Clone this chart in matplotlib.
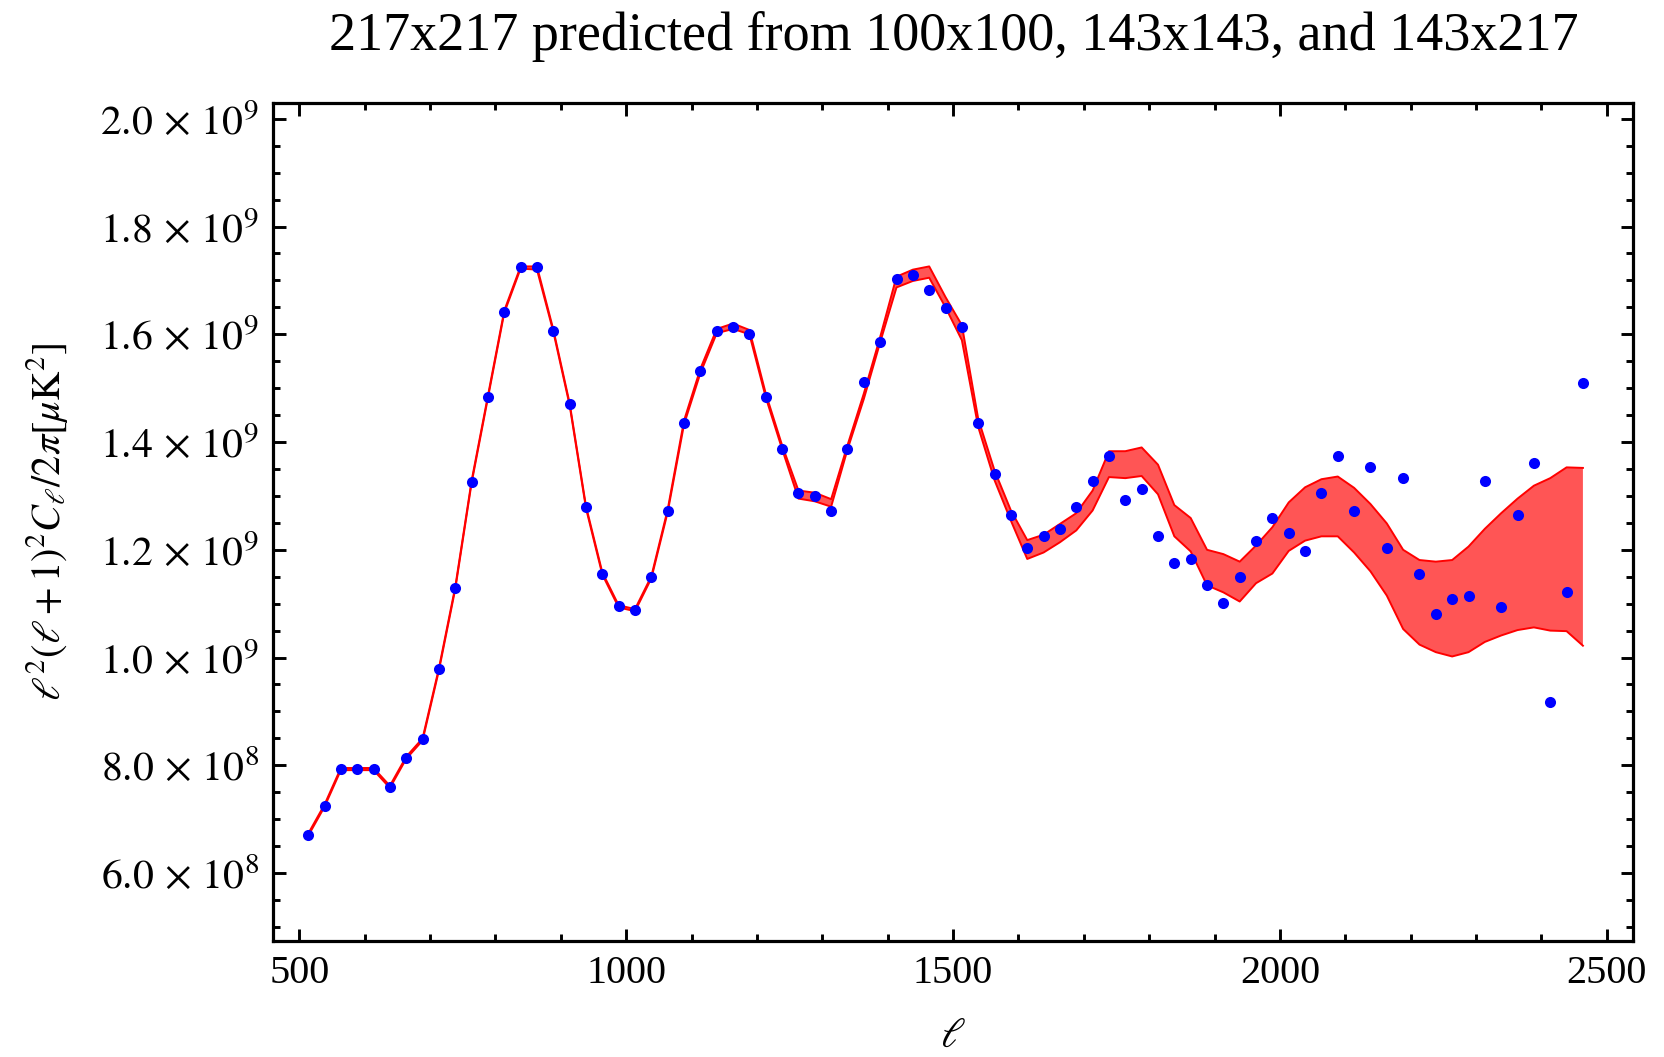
import numpy as np
import matplotlib
matplotlib.use("Agg")
import matplotlib.pyplot as plt
from matplotlib.ticker import FixedLocator, MultipleLocator

plt.rcParams["font.family"] = ["Liberation Serif", "DejaVu Serif"]
plt.rcParams["mathtext.fontset"] = "stix"

# multipole bin centres
ell = [513.5, 538.5, 563.5, 588.5, 613.5, 638.5, 663.5, 688.5, 713.5, 738.5,
       763.5, 788.5, 813.5, 838.5, 863.5, 888.5, 913.5, 938.5, 963.5, 988.5,
       1013.5, 1038.5, 1063.5, 1088.5, 1113.5, 1138.5, 1163.5, 1188.5, 1213.5, 1238.5,
       1263.5, 1288.5, 1313.5, 1338.5, 1363.5, 1388.5, 1413.5, 1438.5, 1463.5, 1488.5,
       1513.5, 1538.5, 1563.5, 1588.5, 1613.5, 1638.5, 1663.5, 1688.5, 1713.5, 1738.5,
       1763.5, 1788.5, 1813.5, 1838.5, 1863.5, 1888.5, 1913.5, 1938.5, 1963.5, 1988.5,
       2013.5, 2038.5, 2063.5, 2088.5, 2113.5, 2138.5, 2163.5, 2188.5, 2213.5, 2238.5,
       2263.5, 2288.5, 2313.5, 2338.5, 2363.5, 2388.5, 2413.5, 2438.5, 2463.5]

# measured 217x217 spectrum (units of 1e8 muK^2)
measured = [6.71, 7.25, 7.93, 7.93, 7.93, 7.60, 8.14, 8.48, 9.78, 11.29,
            13.26, 14.84, 16.42, 17.24, 17.24, 16.07, 14.70, 12.79, 11.56, 10.95,
            10.88, 11.49, 12.72, 14.36, 15.32, 16.07, 16.14, 16.00, 14.84, 13.88,
            13.06, 13.00, 12.72, 13.88, 15.11, 15.86, 17.02, 17.10, 16.82, 16.48,
            16.14, 14.36, 13.40, 12.65, 12.04, 12.25, 12.38, 12.79, 13.27, 13.74,
            12.93, 13.13, 12.25, 11.76, 11.83, 11.35, 11.01, 11.49, 12.17, 12.59,
            12.31, 11.97, 13.06, 13.75, 12.72, 13.54, 12.04, 13.34, 11.56, 10.81,
            11.08, 11.15, 13.27, 10.94, 12.65, 13.61, 9.17, 11.22, 15.10]

# predicted band, upper and lower edge (units of 1e8 muK^2)
pred_hi = [6.73, 7.27, 7.95, 7.95, 7.95, 7.62, 8.16, 8.50, 9.80, 11.31,
           13.28, 14.86, 16.44, 17.26, 17.26, 16.09, 14.72, 12.81, 11.58, 10.97,
           10.90, 11.51, 12.75, 14.40, 15.36, 16.10, 16.20, 16.08, 14.90, 13.94,
           13.10, 13.06, 12.94, 13.94, 14.90, 15.95, 17.07, 17.20, 17.26, 16.69,
           16.17, 14.43, 13.47, 12.73, 12.18, 12.28, 12.48, 12.68, 13.10, 13.83,
           13.83, 13.90, 13.58, 12.83, 12.59, 12.00, 11.92, 11.78, 12.08, 12.42,
           12.88, 13.16, 13.31, 13.36, 13.15, 12.85, 12.49, 12.00, 11.81, 11.78,
           11.81, 12.06, 12.39, 12.68, 12.95, 13.19, 13.33, 13.53, 13.52]
pred_lo = [6.69, 7.23, 7.91, 7.91, 7.91, 7.58, 8.12, 8.46, 9.76, 11.27,
           13.24, 14.82, 16.40, 17.22, 17.20, 16.05, 14.68, 12.77, 11.54, 10.93,
           10.86, 11.47, 12.70, 14.33, 15.28, 16.02, 16.10, 16.00, 14.83, 13.87,
           12.95, 12.90, 12.80, 13.86, 14.80, 15.85, 16.87, 16.99, 17.05, 16.50,
           15.89, 14.28, 13.29, 12.54, 11.83, 11.95, 12.14, 12.36, 12.73, 13.35,
           13.33, 13.37, 13.03, 12.25, 11.97, 11.34, 11.21, 11.04, 11.38, 11.56,
           11.98, 12.17, 12.25, 12.25, 11.95, 11.60, 11.15, 10.53, 10.24, 10.10,
           10.02, 10.10, 10.29, 10.41, 10.51, 10.56, 10.50, 10.49, 10.22]

y_ticks = [6e8, 8e8, 1.0e9, 1.2e9, 1.4e9, 1.6e9, 1.8e9, 2.0e9]
y_tick_labels = [r"$6.0\,\times\,10^{8}$", r"$8.0\,\times\,10^{8}$", r"$1.0\,\times\,10^{9}$",
                 r"$1.2\,\times\,10^{9}$", r"$1.4\,\times\,10^{9}$", r"$1.6\,\times\,10^{9}$",
                 r"$1.8\,\times\,10^{9}$", r"$2.0\,\times\,10^{9}$"]
x_ticks = [500, 1000, 1500, 2000, 2500]
x_tick_labels = ["500", "1000", "1500", "2000", "2500"]

ell = np.array(ell)
measured = np.array(measured) * 1e8
pred_hi = np.array(pred_hi) * 1e8
pred_lo = np.array(pred_lo) * 1e8

fig = plt.figure(figsize=(16.64, 10.57), dpi=100)
ax = fig.add_axes([0.1639, 0.1093, 0.8177, 0.7936])

ax.fill_between(ell, pred_lo, pred_hi, facecolor="#ff5555", edgecolor="none", zorder=1)
ax.plot(ell, pred_hi, color="red", lw=1.4, zorder=2)
ax.plot(ell, pred_lo, color="red", lw=1.4, zorder=2)
ax.plot(ell, measured, "o", color="blue", markersize=8.0, markeredgewidth=0, zorder=3)

ax.set_xlim(459.3, 2540.7)
ax.set_ylim(4.73e8, 2.03e9)

ax.xaxis.set_major_locator(FixedLocator(x_ticks))
ax.set_xticklabels(x_tick_labels)
ax.xaxis.set_minor_locator(MultipleLocator(100))
ax.yaxis.set_major_locator(FixedLocator(y_ticks))
ax.set_yticklabels(y_tick_labels)
ax.yaxis.set_minor_locator(MultipleLocator(0.5e8))

ax.tick_params(which="both", direction="in", top=True, right=True, width=2.1, colors="black")
ax.tick_params(which="major", length=9, labelsize=29)
ax.tick_params(axis="y", which="major", labelsize=30)
ax.tick_params(axis="x", which="major", pad=10)
ax.tick_params(axis="y", which="major", pad=10)
ax.tick_params(which="minor", length=5)
for sp in ax.spines.values():
    sp.set_linewidth(2.3)

ax.set_xlabel(r"$\ell$", fontsize=30, labelpad=18)
ax.set_ylabel(r"$\ell^2(\ell+1)^2C_\ell/2\pi[\mu\mathrm{K}^2]$", fontsize=29, labelpad=22)

fig.text(0.573, 0.953, "217x217 predicted from 100x100, 143x143, and 143x217",
         ha="center", va="baseline", fontsize=39)

fig.savefig("out.png", dpi=100)
